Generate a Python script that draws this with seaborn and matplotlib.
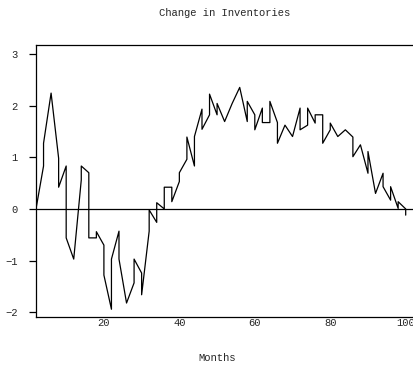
import matplotlib
matplotlib.use("Agg")
import matplotlib.pyplot as plt
import seaborn as sns
import pandas as pd

months = [2, 4, 4, 6, 8, 8, 10, 10, 12, 14, 14, 16, 16, 18, 18, 20, 20, 22, 22,
          24, 24, 26, 28, 28, 30, 30, 32, 32, 34, 34, 36, 36, 38, 38, 40, 40,
          42, 42, 44, 44, 46, 46, 48, 48, 50, 50, 52, 54, 56, 58, 58, 60, 60,
          62, 62, 64, 64, 66, 66, 68, 70, 72, 72, 74, 74, 76, 76, 78, 78, 80,
          80, 82, 84, 86, 86, 88, 90, 90, 92, 94, 94, 96, 96, 98, 98, 100, 100]
change = [0.00, 0.83, 1.27, 2.24, 0.98, 0.42, 0.83, -0.56, -0.97, 0.56, 0.83,
          0.70, -0.56, -0.56, -0.44, -0.70, -1.28, -1.94, -0.97, -0.43, -0.97,
          -1.82, -1.43, -0.97, -1.24, -1.66, -0.43, -0.02, -0.26, 0.12, 0.00,
          0.42, 0.42, 0.14, 0.53, 0.70, 0.96, 1.39, 0.83, 1.40, 1.93, 1.54,
          1.82, 2.22, 1.82, 2.04, 1.69, 2.04, 2.35, 1.69, 2.08, 1.82, 1.53,
          1.95, 1.67, 1.67, 2.08, 1.67, 1.27, 1.62, 1.40, 1.95, 1.53, 1.62,
          1.95, 1.66, 1.82, 1.82, 1.27, 1.53, 1.66, 1.40, 1.53, 1.39, 1.01,
          1.24, 0.69, 1.11, 0.30, 0.69, 0.43, 0.17, 0.43, 0.01, 0.14, 0.00,
          -0.12]
xticks = [20, 40, 60, 80, 100]
yticks = [-2, -1, 0, 1, 2, 3]

df = pd.DataFrame({"Months": months, "Change": change})

sns.set_style("white")
plt.rcParams["font.family"] = ["Liberation Mono", "DejaVu Sans"]
fs = 7.6

fig = plt.figure(figsize=(4.14, 3.69), dpi=100)
ax = fig.add_axes([36 / 414, 1 - 317 / 369, 1 - 36 / 414, (317 - 45) / 369])

sns.lineplot(data=df, x="Months", y="Change", sort=False, estimator=None,
             color="black", linewidth=0.9, ax=ax)
ax.axhline(0, color="black", linewidth=0.9)

ax.set_xlim(2.0, 102.2)
ax.set_ylim(-2.09, 3.17)
ax.set_xticks(xticks)
ax.set_xticklabels([str(t) for t in xticks], fontsize=fs)
ax.set_yticks(yticks)
ax.set_yticklabels([str(t).replace("-", "\u2212") for t in yticks], fontsize=fs)
ax.tick_params(axis="x", length=0, pad=1)
ax.tick_params(axis="y", length=5, width=0.9, pad=8, color="black", left=True)

for s in ["left", "bottom", "top"]:
    ax.spines[s].set_color("black")
    ax.spines[s].set_linewidth(0.9)
ax.spines["right"].set_visible(False)

ax.set_xlabel("Months", fontsize=fs, va="center")
ax.xaxis.set_label_coords((217.5 - 36) / 378, (317 - 358) / 272)
ax.set_ylabel("")
fig.text(225 / 414, 1 - 13 / 369, "Change in Inventories", fontsize=fs,
         ha="center", va="center")

fig.savefig("out.png", dpi=100)
